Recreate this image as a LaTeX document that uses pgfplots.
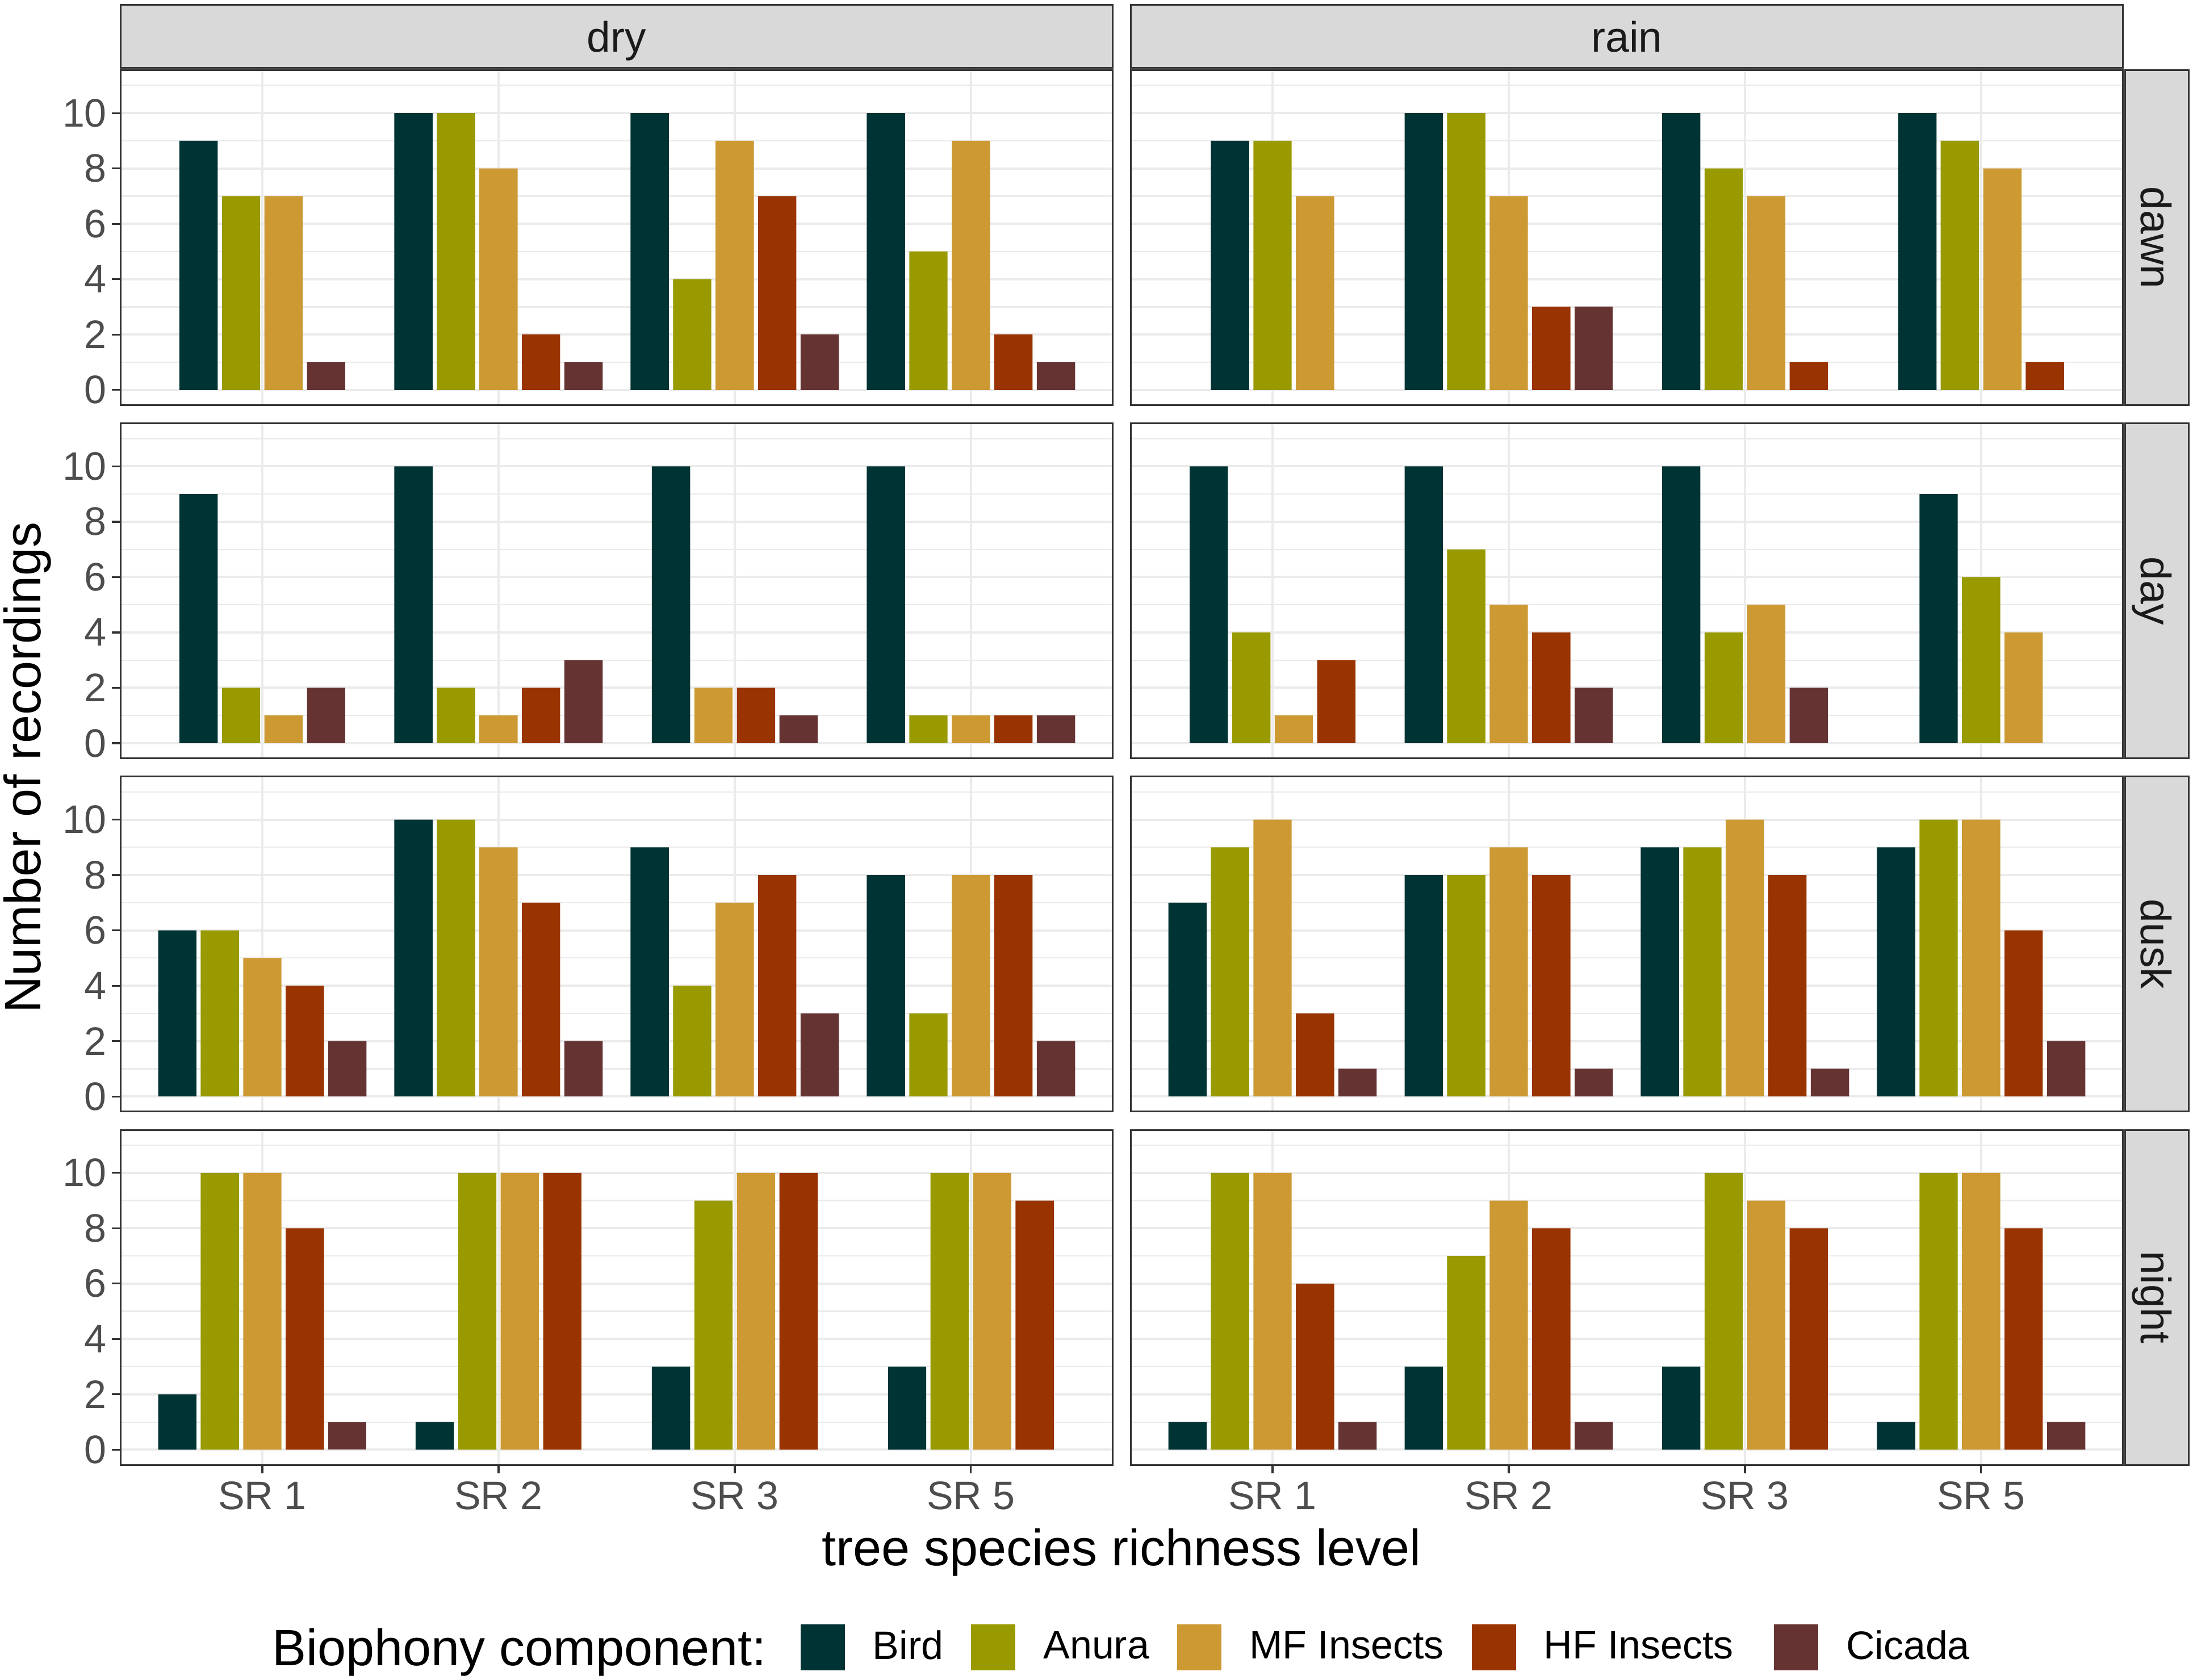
\documentclass[border=0pt]{standalone}
\usepackage{pgfplots}
\pgfplotsset{compat=1.18}
\usepackage{fontspec}
\setmainfont{Liberation Sans}
\definecolor{cBird}{HTML}{003333}
\definecolor{cAnura}{HTML}{999900}
\definecolor{cMF}{HTML}{CC9933}
\definecolor{cHF}{HTML}{993300}
\definecolor{cCic}{HTML}{663333}
\definecolor{gridc}{HTML}{EBEBEB}
\definecolor{framec}{HTML}{333333}
\definecolor{stripfill}{HTML}{D9D9D9}
\definecolor{tickc}{HTML}{4D4D4D}
\definecolor{striptext}{HTML}{1A1A1A}
\newcommand{\ticfont}{\fontsize{14}{16.8}\selectfont}
\newcommand{\stripfont}{\fontsize{15}{18}\selectfont}
\newcommand{\titlefont}{\fontsize{18}{21.6}\selectfont}
\newcommand{\HFlab}{HF Insects\rule{4.4pt}{0pt}}
\pgfplotsset{
  keyimg/.style={legend image code/.code={\fill[##1] (0pt,-8.1pt) rectangle (15.6pt,8.1pt);}},
  panel/.style={
    scale only axis, width=349.4pt, height=118pt, anchor=south west,
    xmin=0.4, xmax=4.6, ymin=-0.55, ymax=11.55,
    xtick={1,2,3,4}, ytick={0,2,4,6,8,10}, minor ytick={1,3,5,7,9,11},
    grid=both,
    major grid style={draw=gridc, line width=0.8pt},
    minor grid style={draw=gridc, line width=0.45pt},
    axis line style={draw=framec, line width=0.6pt},
    tick style={draw=framec, line width=0.65pt},
    major tick length=3pt, minor tick length=0pt,
    tick align=outside, tick pos=left,
    xticklabels={}, yticklabels={},
    /pgf/number format/assume math mode=true,
    xticklabel style={font=\ticfont, text=tickc, inner sep=0pt, anchor=north, yshift=-2.7pt},
    yticklabel style={font=\ticfont, text=tickc, inner sep=0pt, anchor=east, xshift=-1.7pt},
    every axis plot/.append style={ybar, bar width=0.162, bar shift=0pt, draw=none, keyimg},
  },
  noxt/.style={xmajorticks=false},
  noyt/.style={ymajorticks=false},
  xlab/.style={xticklabels={SR 1,SR 2,SR 3,SR 5}},
  ylab/.style={yticklabels={0,2,4,6,8,10}},
}
\begin{document}
\begin{tikzpicture}
\path[use as bounding box] (0pt,0pt) rectangle (772.4pt,591.6pt);

% ---------------- row 1: dawn ----------------
\begin{axis}[panel, noxt, ylab, at={(42.48pt,448.88pt)}]
\addplot[fill=cBird] coordinates {(0.73,9) (1.64,10) (2.64,10) (3.64,10)};
\addplot[fill=cAnura] coordinates {(0.91,7) (1.82,10) (2.82,4) (3.82,5)};
\addplot[fill=cMF] coordinates {(1.09,7) (2,8) (3,9) (4,9)};
\addplot[fill=cHF] coordinates {(2.18,2) (3.18,7) (4.18,2)};
\addplot[fill=cCic] coordinates {(1.27,1) (2.36,1) (3.36,2) (4.36,1)};
\end{axis}
\begin{axis}[panel, noxt, noyt, at={(398.28pt,448.88pt)}]
\addplot[fill=cBird] coordinates {(0.82,9) (1.64,10) (2.73,10) (3.73,10)};
\addplot[fill=cAnura] coordinates {(1,9) (1.82,10) (2.91,8) (3.91,9)};
\addplot[fill=cMF] coordinates {(1.18,7) (2,7) (3.09,7) (4.09,8)};
\addplot[fill=cHF] coordinates {(2.18,3) (3.27,1) (4.27,1)};
\addplot[fill=cCic] coordinates {(2.36,3)};
\end{axis}

% ---------------- row 2: day ----------------
\begin{axis}[panel, noxt, ylab, at={(42.48pt,324.44pt)}]
\addplot[fill=cBird] coordinates {(0.73,9) (1.64,10) (2.73,10) (3.64,10)};
\addplot[fill=cAnura] coordinates {(0.91,2) (1.82,2) (3.82,1)};
\addplot[fill=cMF] coordinates {(1.09,1) (2,1) (2.91,2) (4,1)};
\addplot[fill=cHF] coordinates {(2.18,2) (3.09,2) (4.18,1)};
\addplot[fill=cCic] coordinates {(1.27,2) (2.36,3) (3.27,1) (4.36,1)};
\end{axis}
\begin{axis}[panel, noxt, noyt, at={(398.28pt,324.44pt)}]
\addplot[fill=cBird] coordinates {(0.73,10) (1.64,10) (2.73,10) (3.82,9)};
\addplot[fill=cAnura] coordinates {(0.91,4) (1.82,7) (2.91,4) (4,6)};
\addplot[fill=cMF] coordinates {(1.09,1) (2,5) (3.09,5) (4.18,4)};
\addplot[fill=cHF] coordinates {(1.27,3) (2.18,4)};
\addplot[fill=cCic] coordinates {(2.36,2) (3.27,2)};
\end{axis}

% ---------------- row 3: dusk ----------------
\begin{axis}[panel, noxt, ylab, at={(42.48pt,200pt)}]
\addplot[fill=cBird] coordinates {(0.64,6) (1.64,10) (2.64,9) (3.64,8)};
\addplot[fill=cAnura] coordinates {(0.82,6) (1.82,10) (2.82,4) (3.82,3)};
\addplot[fill=cMF] coordinates {(1,5) (2,9) (3,7) (4,8)};
\addplot[fill=cHF] coordinates {(1.18,4) (2.18,7) (3.18,8) (4.18,8)};
\addplot[fill=cCic] coordinates {(1.36,2) (2.36,2) (3.36,3) (4.36,2)};
\end{axis}
\begin{axis}[panel, noxt, noyt, at={(398.28pt,200pt)}]
\addplot[fill=cBird] coordinates {(0.64,7) (1.64,8) (2.64,9) (3.64,9)};
\addplot[fill=cAnura] coordinates {(0.82,9) (1.82,8) (2.82,9) (3.82,10)};
\addplot[fill=cMF] coordinates {(1,10) (2,9) (3,10) (4,10)};
\addplot[fill=cHF] coordinates {(1.18,3) (2.18,8) (3.18,8) (4.18,6)};
\addplot[fill=cCic] coordinates {(1.36,1) (2.36,1) (3.36,1) (4.36,2)};
\end{axis}

% ---------------- row 4: night ----------------
\begin{axis}[panel, xlab, ylab, at={(42.48pt,75.56pt)},
  legend columns=5,
  legend cell align=left,
  legend style={at={(0.6855,-0.5437)}, anchor=west, draw=none, fill=none,
    inner sep=0pt, outer sep=0pt, column sep=9.8pt, font=\ticfont,
    nodes={inner sep=0pt}}]
\addplot[fill=cBird] coordinates {(0.64,2) (1.73,1) (2.73,3) (3.73,3)};
\addlegendentry{Bird}
\addplot[fill=cAnura] coordinates {(0.82,10) (1.91,10) (2.91,9) (3.91,10)};
\addlegendentry{Anura}
\addplot[fill=cMF] coordinates {(1,10) (2.09,10) (3.09,10) (4.09,10)};
\addlegendentry{MF Insects}
\addplot[fill=cHF] coordinates {(1.18,8) (2.27,10) (3.27,10) (4.27,9)};
\addlegendentry{\HFlab}
\addplot[fill=cCic] coordinates {(1.36,1)};
\addlegendentry{Cicada}
\end{axis}
\begin{axis}[panel, xlab, noyt, at={(398.28pt,75.56pt)}]
\addplot[fill=cBird] coordinates {(0.64,1) (1.64,3) (2.73,3) (3.64,1)};
\addplot[fill=cAnura] coordinates {(0.82,10) (1.82,7) (2.91,10) (3.82,10)};
\addplot[fill=cMF] coordinates {(1,10) (2,9) (3.09,9) (4,10)};
\addplot[fill=cHF] coordinates {(1.18,6) (2.18,8) (3.27,8) (4.18,8)};
\addplot[fill=cCic] coordinates {(1.36,1) (2.36,1) (4.36,1)};
\end{axis}

% ---------------- strips ----------------
\foreach \xl/\lab in {42.48/dry, 398.28/rain}{
  \draw[fill=stripfill, draw=framec, line width=0.6pt] (\xl pt,567.6pt) rectangle ++(349.4pt,22.36pt);
  \node[anchor=base, font=\stripfont, text=striptext, inner sep=0pt] at (\xl pt+174.7pt,573.3pt) {\lab};
}
\foreach \yb/\lab in {448.88/dawn, 324.44/day, 200/dusk, 75.56/night}{
  \draw[fill=stripfill, draw=framec, line width=0.6pt] (748.4pt,\yb pt) rectangle ++(22.4pt,118pt);
  \node[anchor=base, rotate=-90, font=\stripfont, text=striptext, inner sep=0pt] at (754.1pt,\yb pt+59pt) {\lab};
}

% ---------------- titles ----------------
\node[anchor=base, font=\titlefont, inner sep=0pt] at (395pt,40.2pt) {tree species richness level};
\node[anchor=base, rotate=90, font=\titlefont, inner sep=0pt] at (14.3pt,321.2pt) {Number of recordings};
\node[anchor=base west, font=\titlefont, inner sep=0pt] at (95.7pt,4.95pt) {Biophony component:};
\end{tikzpicture}
\end{document}
